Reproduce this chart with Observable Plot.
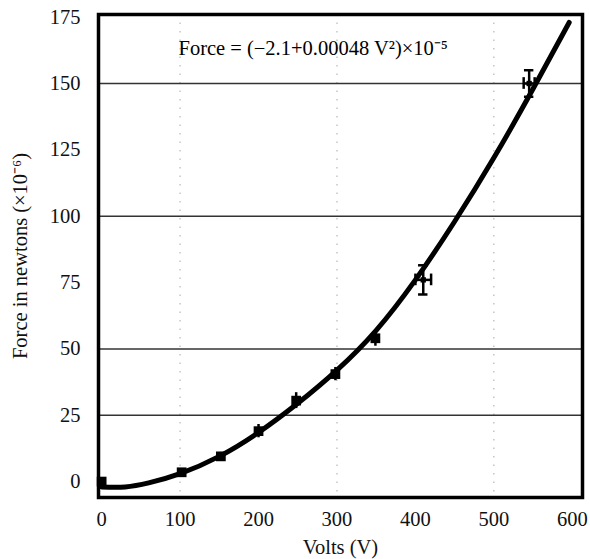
<!DOCTYPE html>
<html>
<head>
<meta charset="utf-8">
<script src="https://cdn.jsdelivr.net/npm/d3@7"></script>
<script src="https://cdn.jsdelivr.net/npm/@observablehq/plot@0.6"></script>
<style>
  html, body { margin: 0; padding: 0; background: #fff; }
  #chart { position: relative; width: 590px; height: 559px; }
  #chart svg, #chart svg text, #chart svg tspan { font-family: "Liberation Serif", "Times New Roman", serif !important; font-size: 20.5px !important; }
</style>
</head>
<body>
<div id="chart"></div>
<script>
// Measured points (Volts, Force ×10^-6 N) with error bars
const volts = [0, 102, 152, 200, 248, 298, 349, 410, 545];
const force = [0, 3.5, 9.5, 19, 30.5, 40.5, 54, 76, 150];
const forceErr = [1, 1, 1.5, 2.5, 3, 2.5, 3, 5.5, 5];
const voltsErr = [0, 0, 0, 0, 0, 0, 0, 10, 7];

// Fitted curve
const curveV = [0, 30, 60, 100, 150, 200, 250, 300, 350, 400, 450, 500, 550, 596];
const curveF = [-2, -2, -0.5, 3, 9.5, 18.5, 29.5, 42, 57, 76, 98, 122, 148, 173];

const yTicks = [0, 25, 50, 75, 100, 125, 150, 175];
const xTicks = [0, 100, 200, 300, 400, 500, 600];
const hGrid = [25, 50, 100, 150];
const vGrid = [100, 300, 500];

const equation = "Force = (\u22122.1+0.00048 V\u00B2)\u00D710\u207B\u2075";
const xLabel = "Volts (V)";
const yLabel = "Force in newtons (\u00D710\u207B\u2076)";

const points = volts.map((v, i) => ({v, f: force[i], fe: forceErr[i], ve: voltsErr[i]}));
const curve = curveV.map((v, i) => ({v, f: curveF[i]}));
const capV = 6; // half-width of caps in volts
const capF = 2.2; // half-height of caps in force units

const plot = Plot.plot({
  width: 590,
  height: 559,
  marginLeft: 98,
  marginRight: 8,
  marginTop: 14,
  marginBottom: 62,
  style: {fontFamily: "Liberation Serif", fontSize: "20px", color: "#111", background: "#fff"},
  x: {domain: [-4, 613], ticks: xTicks, tickSize: 0, label: null},
  y: {domain: [-6, 176], ticks: yTicks, tickSize: 0, label: null},
  marks: [
    Plot.ruleX(vGrid, {stroke: "#999", strokeWidth: 1.2, strokeDasharray: "1.5,7", strokeOpacity: 0.7}),
    Plot.ruleY(hGrid, {stroke: "#333", strokeWidth: 1.5}),
    Plot.line(curve, {x: "v", y: "f", curve: "natural", stroke: "#000", strokeWidth: 5}),
    // vertical error bars
    Plot.ruleX(points, {x: "v", y1: d => d.f - d.fe, y2: d => d.f + d.fe, stroke: "#000", strokeWidth: 2.5}),
    Plot.ruleY(points.filter(d => d.fe > 3), {y: d => d.f + d.fe, x1: d => d.v - capV, x2: d => d.v + capV, stroke: "#000", strokeWidth: 2.5}),
    Plot.ruleY(points.filter(d => d.fe > 3), {y: d => d.f - d.fe, x1: d => d.v - capV, x2: d => d.v + capV, stroke: "#000", strokeWidth: 2.5}),
    // horizontal error bars
    Plot.ruleY(points.filter(d => d.ve > 0), {y: "f", x1: d => d.v - d.ve, x2: d => d.v + d.ve, stroke: "#000", strokeWidth: 2.5}),
    Plot.ruleX(points.filter(d => d.ve > 0), {x: d => d.v + d.ve, y1: d => d.f - capF, y2: d => d.f + capF, stroke: "#000", strokeWidth: 2.5}),
    Plot.ruleX(points.filter(d => d.ve > 0), {x: d => d.v - d.ve, y1: d => d.f - capF, y2: d => d.f + capF, stroke: "#000", strokeWidth: 2.5}),
    Plot.dot(points.filter(d => d.ve === 0), {x: "v", y: "f", symbol: "square", r: 5.5, fill: "#000", stroke: "none"}),
    Plot.dot(points.filter(d => d.ve > 0), {x: "v", y: "f", symbol: "square", r: 3, fill: "#000", stroke: "none"}),
    Plot.frame({stroke: "#000", strokeWidth: 3.5}),
    Plot.text([equation], {frameAnchor: "top-left", dx: 80, dy: 34, lineAnchor: "middle", text: d => d, fill: "#000", textAnchor: "start"}),
    Plot.axisX({ticks: xTicks, tickSize: 0, tickPadding: 14, label: xLabel, labelAnchor: "center", labelArrow: "none", labelOffset: 56}),
    Plot.axisY({ticks: yTicks, tickSize: 0, tickPadding: 18, label: yLabel, labelAnchor: "center", labelArrow: "none", labelOffset: 86})
  ]
});
document.getElementById("chart").appendChild(plot);
</script>
</body>
</html>
